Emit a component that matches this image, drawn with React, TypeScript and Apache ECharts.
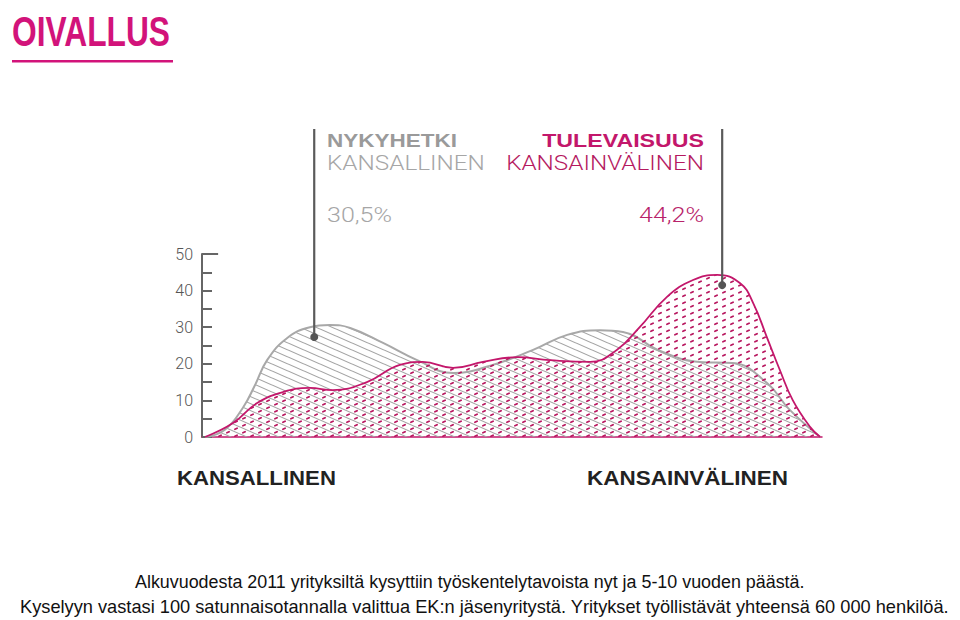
import React, { useEffect, useRef } from 'react';
import * as echarts from 'echarts';

// Y axis
const yMin = 0;
const yMax = 50;
const yStep = 5;

// Series: "Nykyhetki – kansallinen" (grey) and "Tulevaisuus – kansainvälinen" (pink)
const seriesNames = ['Nykyhetki – kansallinen', 'Tulevaisuus – kansainvälinen'];
const greyX = [0.5, 3.7, 6.6, 8.5, 10.5, 13.7, 17.4, 20.6, 23.9, 29.2, 34.7, 40.5, 46.5, 53.4, 58.9, 64.2, 67.9, 73.9, 80.3, 85.6, 91.1, 94.8, 99.7];
const greyY = [0, 2, 8, 14, 21, 27, 30, 30.6, 29.8, 25.7, 21, 17.5, 19.5, 23.8, 27.9, 29.2, 28.7, 23.5, 20.5, 20.2, 14.8, 7.4, 0];
const pinkX = [0.5, 5, 8.9, 13.1, 17.4, 21.1, 26.6, 31.9, 35.6, 40.5, 45.3, 50.8, 56.1, 62.6, 66.9, 70.6, 75, 79.2, 83.1, 86.8, 88.9, 91.1, 93.2, 95.3, 98.1, 99.7];
const pinkY = [0, 3.8, 9.3, 12.3, 13.4, 12.8, 15, 19.7, 20.5, 18.9, 20.5, 21.8, 21, 20.5, 23.8, 30, 38.3, 42.9, 44.3, 42, 36.6, 27.3, 18.3, 10, 2.7, 0];

// Callouts
const calloutX = [18.1, 83.9];
const calloutY = [27.3, 41.5];
const calloutTitles = ['NYKYHETKI', 'TULEVAISUUS'];
const calloutSubs = ['KANSALLINEN', 'KANSAINVÄLINEN'];
const calloutValues = ['30,5%', '44,2%'];

const bottomLabels = ['KANSALLINEN', 'KANSAINVÄLINEN'];
const footerLines = [
  'Alkuvuodesta 2011 yrityksiltä kysyttiin työskentelytavoista nyt ja 5-10 vuoden päästä.',
  'Kyselyyn vastasi 100 satunnaisotannalla valittua EK:n jäsenyritystä. Yritykset työllistävät yhteensä 60 000 henkilöä.',
];

const PINK = '#c3176b';
const LOGO = '#d2137a';
const GREY_LINE = '#a8a8a8';

function makeHatch(): HTMLCanvasElement {
  const c = document.createElement('canvas');
  c.width = 16;
  c.height = 7;
  const g = c.getContext('2d')!;
  g.strokeStyle = '#a4a4a4';
  g.lineWidth = 1.1;
  for (const off of [-7, 0, 7]) {
    g.beginPath();
    g.moveTo(-1, off - 7 / 16);
    g.lineTo(17, off + (7 * 17) / 16);
    g.stroke();
  }
  return c;
}

function makeDots(): HTMLCanvasElement {
  const c = document.createElement('canvas');
  c.width = 16;
  c.height = 7;
  const g = c.getContext('2d')!;
  g.strokeStyle = '#b8175f';
  g.lineWidth = 1.8;
  g.lineCap = 'round';
  const dx = 0.916 * 1.2;
  const dy = -0.401 * 1.2;
  const centers = [
    [4, 5.25],
    [12, 1.75],
  ];
  for (const [cx, cy] of centers) {
    g.beginPath();
    g.moveTo(cx - dx, cy - dy);
    g.lineTo(cx + dx, cy + dy);
    g.stroke();
  }
  return c;
}

let measureCtx: CanvasRenderingContext2D | null = null;
function fitScale(text: string, font: string, width: number): number {
  if (!measureCtx) measureCtx = document.createElement('canvas').getContext('2d');
  if (!measureCtx) return 1;
  measureCtx.font = font;
  const w = measureCtx.measureText(text).width;
  return w > 0 ? width / w : 1;
}

export default function App() {
  const ref = useRef<HTMLDivElement>(null);

  useEffect(() => {
    document.body.style.margin = '0';
    if (!ref.current) return;
    const chart = echarts.init(ref.current, null, { renderer: 'svg' });

    const greyData = greyX.map((x, i) => [x, greyY[i]]);
    const pinkData = pinkX.map((x, i) => [x, pinkY[i]]);

    chart.setOption({
      animation: false,
      backgroundColor: '#ffffff',
      grid: { left: 202, right: 138, top: 254, bottom: 183, containLabel: false },
      xAxis: {
        type: 'value',
        min: 0,
        max: 100,
        axisLine: { show: true, lineStyle: { color: PINK, width: 1.5 } },
        axisTick: { show: false },
        axisLabel: { show: false },
        splitLine: { show: false },
      },
      yAxis: {
        type: 'value',
        min: yMin,
        max: yMax,
        interval: yStep,
        axisLine: { show: true, lineStyle: { color: '#666666', width: 2 } },
        axisTick: { show: true, inside: true, length: 10, lineStyle: { color: '#666666', width: 2 } },
        axisLabel: {
          color: '#555555',
          fontSize: 16,
          fontWeight: 300,
          fontFamily: 'Roboto, "Liberation Sans", sans-serif',
          margin: 9,
          formatter: (v: number) => (v % 10 === 0 ? String(v) : ''),
        },
        splitLine: { show: false },
      },
      series: [
        {
          name: seriesNames[0],
          type: 'line',
          data: greyData,
          smooth: 0.45,
          symbol: 'none',
          lineStyle: { color: GREY_LINE, width: 2 },
          areaStyle: { opacity: 1, color: { image: makeHatch(), repeat: 'repeat' } },
          z: 2,
          markLine: {
            silent: true,
            symbol: 'none',
            label: { show: false },
            lineStyle: { color: '#666666', width: 2, type: 'solid' },
            data: [[{ coord: [0, yMax] }, { coord: [2.6, yMax] }]],
          },
        },
        {
          name: seriesNames[1],
          type: 'line',
          data: pinkData,
          smooth: 0.45,
          symbol: 'none',
          lineStyle: { color: PINK, width: 1.8 },
          areaStyle: { opacity: 1, color: { image: makeDots(), repeat: 'repeat' } },
          z: 3,
        },
      ],
    });

    const pts = calloutX.map((x, i) => chart.convertToPixel({ gridIndex: 0 }, [x, calloutY[i]]) as number[]);
    const lineTop = 129;
    const textLeft = 327;
    const textRight = 704;

    const fittedText = (
      text: string,
      font: string,
      x: number,
      y: number,
      width: number,
      fill: string,
      align: 'left' | 'right'
    ) => ({
      type: 'text',
      x,
      y,
      scaleX: fitScale(text, font, width),
      style: { text, font, fill, textAlign: align, textVerticalAlign: 'middle' },
    });

    const logoFont = 'bold 43px "Liberation Sans", Arial, sans-serif';
    const graphics: any[] = [
      fittedText('OIVALLUS', logoFont, 12, 31, 158, LOGO, 'left'),
      { type: 'rect', shape: { x: 12, y: 60, width: 161, height: 2.5 }, style: { fill: LOGO } },
    ];

    pts.forEach((p) => {
      graphics.push({
        type: 'line',
        shape: { x1: p[0], y1: lineTop, x2: p[0], y2: p[1] },
        style: { stroke: '#5a5a5a', lineWidth: 2.2 },
        z: 100,
      });
      graphics.push({
        type: 'circle',
        shape: { cx: p[0], cy: p[1], r: 4 },
        style: { fill: '#555555' },
        z: 101,
      });
    });

    const titleFont = 'bold 19px "Liberation Sans", Arial, sans-serif';
    const subFont = '300 21px Roboto, "Liberation Sans", sans-serif';
    const titleW = [130, 162];
    const subW = [158, 198];
    const valW = [65, 65];
    const isRight = [false, true];
    calloutTitles.forEach((t, i) => {
      const x = isRight[i] ? textRight : textLeft;
      const align = isRight[i] ? 'right' : 'left';
      graphics.push(fittedText(t, titleFont, x, 140, titleW[i], i === 0 ? '#9a9a9a' : PINK, align));
      graphics.push(fittedText(calloutSubs[i], subFont, x, 163, subW[i], i === 0 ? '#a6a6a6' : '#b5195f', align));
      graphics.push(fittedText(calloutValues[i], subFont, x, 215, valW[i], i === 0 ? '#a6a6a6' : '#b8236a', align));
    });

    const bottomFont = 'bold 20px "Liberation Sans", Arial, sans-serif';
    const bottomX = [177, 587];
    const bottomW = [159, 201];
    bottomLabels.forEach((t, i) => {
      graphics.push(fittedText(t, bottomFont, bottomX[i], 478, bottomW[i], '#222222', 'left'));
    });

    const footerFont = '19px "Liberation Sans", Arial, sans-serif';
    const footerX = [135, 20];
    const footerY = [581, 606];
    const footerW = [670, 930];
    footerLines.forEach((t, i) => {
      graphics.push(fittedText(t, footerFont, footerX[i], footerY[i], footerW[i], '#111111', 'left'));
    });

    chart.setOption({ graphic: graphics });

    return () => chart.dispose();
  }, []);

  return <div ref={ref} style={{ width: 960, height: 620 }} />;
}
